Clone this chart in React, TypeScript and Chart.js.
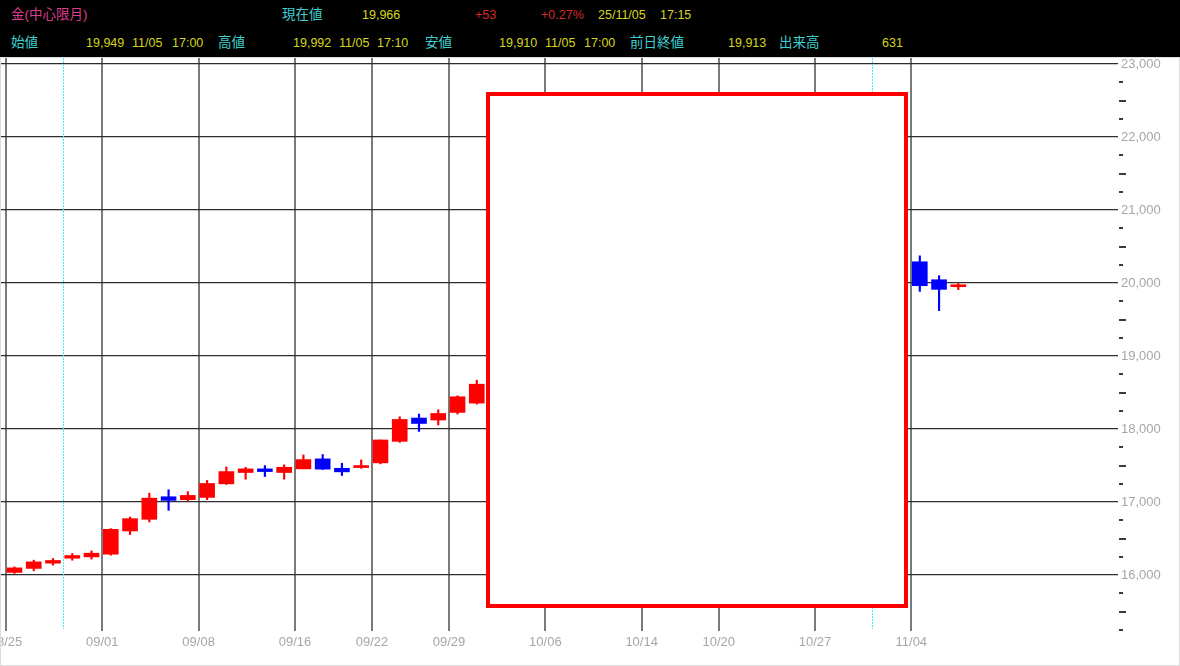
import React, { useEffect, useRef } from 'react';
import { Chart, registerables } from 'chart.js';

Chart.register(...registerables);

// ---- data ----
const dates = [
  '08/25', '08/26', '08/27', '08/28', '08/29',
  '09/01', '09/02', '09/03', '09/04', '09/05',
  '09/08', '09/09', '09/10', '09/11', '09/12',
  '09/16', '09/17', '09/18', '09/19',
  '09/22', '09/24', '09/25', '09/26',
  '09/29', '09/30', '10/01', '10/02', '10/03',
  '10/06', '10/07', '10/08', '10/09', '10/10',
  '10/14', '10/15', '10/16', '10/17',
  '10/20', '10/21', '10/22', '10/23', '10/24',
  '10/27', '10/28', '10/29', '10/30', '10/31',
  '11/04', '11/05', '11/06',
];

// null = hidden under the white box in the reference
const opens: (number | null)[] = [
  16035, 16090, 16162, 16230, 16248,
  16285, 16603, 16763, 17072, 17032,
  17063, 17249, 17404, 17454, 17404,
  17454, 17591, 17462, 17472,
  17536, 17831, 18150, 18123,
  18227, 18355, null, null, null,
  null, null, null, null, null,
  null, null, null, null,
  null, null, null, null, null,
  null, null, null, null, null,
  20291, 20045, 19949,
];
const highs: (number | null)[] = [
  16112, 16203, 16226, 16295, 16330,
  16636, 16794, 17121, 17168, 17141,
  17295, 17481, 17476, 17499, 17509,
  17645, 17650, 17531, 17577,
  17850, 18168, 18205, 18263,
  18455, 18668, null, null, null,
  null, null, null, null, null,
  null, null, null, null,
  null, null, null, null, null,
  null, null, null, null, null,
  20372, 20100, 19992,
];
const lows: (number | null)[] = [
  16022, 16057, 16135, 16203, 16217,
  16271, 16554, 16726, 16886, 17013,
  17032, 17240, 17312, 17349, 17312,
  17454, 17445, 17363, 17462,
  17522, 17817, 17967, 18055,
  18205, 18341, null, null, null,
  null, null, null, null, null,
  null, null, null, null,
  null, null, null, null, null,
  null, null, null, null, null,
  19885, 19622, 19910,
];
const closes: (number | null)[] = [
  16098, 16180, 16199, 16267, 16299,
  16626, 16772, 17053, 17022, 17090,
  17254, 17417, 17454, 17417, 17476,
  17581, 17450, 17413, 17495,
  17850, 18131, 18076, 18213,
  18442, 18614, null, null, null,
  null, null, null, null, null,
  null, null, null, null,
  null, null, null, null, null,
  null, null, null, null, null,
  19963, 19913, 19966,
];

const weekLabels = ['08/25', '09/01', '09/08', '09/16', '09/22', '09/29', '10/06', '10/14', '10/20', '10/27', '11/04'];
const rolloverDays = ['08/28', '10/30'];
const yLabelValues = [16000, 17000, 18000, 19000, 20000, 21000, 22000, 23000];
const yMinorValues = [
  15250, 15500, 15750, 16250, 16500, 16750, 17250, 17500, 17750,
  18250, 18500, 18750, 19250, 19500, 19750, 20250, 20500, 20750,
  21250, 21500, 21750, 22250, 22500, 22750,
];

const headerRow1 = [
  { t: '金(中心限月)', c: 'pink' },
  { t: '現在値', c: 'cyan' },
  { t: '19,966', c: 'yellow' },
  { t: '+53', c: 'red' },
  { t: '+0.27%', c: 'red' },
  { t: '25/11/05', c: 'yellow' },
  { t: '17:15', c: 'yellow' },
];
const headerRow2 = [
  { t: '始値', c: 'cyan' },
  { t: '19,949', c: 'yellow' },
  { t: '11/05', c: 'yellow' },
  { t: '17:00', c: 'yellow' },
  { t: '高値', c: 'cyan' },
  { t: '19,992', c: 'yellow' },
  { t: '11/05', c: 'yellow' },
  { t: '17:10', c: 'yellow' },
  { t: '安値', c: 'cyan' },
  { t: '19,910', c: 'yellow' },
  { t: '11/05', c: 'yellow' },
  { t: '17:00', c: 'yellow' },
  { t: '前日終値', c: 'cyan' },
  { t: '19,913', c: 'yellow' },
  { t: '出来高', c: 'cyan' },
  { t: '631', c: 'yellow' },
];

// ---- layout (not data) ----
const row1X = [11, 282, 362, 475, 541, 598, 660];
const row2X = [11, 86, 132, 172, 218, 293, 339, 377, 425, 499, 545, 584, 630, 728, 779, 882];
const colorMap: Record<string, string> = {
  pink: '#dc3f8e',
  cyan: '#3fd0d0',
  yellow: '#d6d61c',
  red: '#d62a2a',
};

const UP = '#ff0000';
const DOWN = '#0000ff';

const overlayPlugin = {
  id: 'overlay',
  beforeDatasetsDraw(chart: any) {
    const { ctx, chartArea, scales } = chart;
    ctx.save();
    ctx.strokeStyle = '#38eef8';
    ctx.lineWidth = 1;
    ctx.setLineDash([2, 1]);
    rolloverDays.forEach((d) => {
      const i = dates.indexOf(d);
      const x = Math.round(scales.x.getPixelForValue(i - 0.5)) + 0.5;
      ctx.beginPath();
      ctx.moveTo(x, chartArea.top + 1);
      ctx.lineTo(x, chartArea.bottom - 2);
      ctx.stroke();
    });
    ctx.restore();
  },
  afterDraw(chart: any) {
    const { ctx, chartArea, scales } = chart;
    ctx.save();
    ctx.fillStyle = '#3a3a3a';
    yMinorValues.forEach((v) => {
      const y = scales.y.getPixelForValue(v);
      const len = v % 500 === 0 ? 7 : 4;
      ctx.fillRect(chartArea.right + 1, Math.round(y) - 1, len, 2);
    });
    ctx.restore();
  },
};

const hasCJK = (s: string) => /[\u3000-\u9fff]/.test(s);

export default function App() {
  const canvasRef = useRef<HTMLCanvasElement | null>(null);

  useEffect(() => {
    const canvas = canvasRef.current;
    if (!canvas) return;
    const idx = dates.map((_, i) => i).filter((i) => opens[i] != null);
    const isUp = (i: number) => (closes[i] as number) >= (opens[i] as number);

    const bodies = idx.map((i) => ({ x: i, y: [opens[i] as number, closes[i] as number] }));
    const wicks = idx.map((i) => ({ x: i, y: [lows[i] as number, highs[i] as number] }));
    const bodyColors = idx.map((i) => (isUp(i) ? UP : DOWN));

    const weekIdx = weekLabels.map((d) => dates.indexOf(d));

    const chart = new Chart(canvas, {
      type: 'bar',
      data: {
        datasets: [
          {
            data: bodies as any,
            backgroundColor: bodyColors,
            borderWidth: 0,
            barThickness: 15,
            minBarLength: 2,
            grouped: false,
          } as any,
          {
            data: wicks as any,
            backgroundColor: bodyColors,
            borderWidth: 0,
            barThickness: 1.5,
            grouped: false,
          } as any,
        ],
      },
      options: {
        animation: false,
        responsive: false,
        devicePixelRatio: 1,
        layout: { padding: { left: 1, right: 0, top: 0, bottom: 0 } },
        plugins: { legend: { display: false }, tooltip: { enabled: false } },
        scales: {
          x: {
            type: 'linear',
            offset: false,
            min: -0.7,
            max: 57.29,
            border: { display: false },
            grid: { color: '#7a7a7a', lineWidth: 2, drawTicks: false, offset: false },
            afterBuildTicks: (scale: any) => {
              scale.ticks = weekIdx.map((i) => ({ value: i - 0.44 }));
            },
            afterFit: (scale: any) => {
              scale.height = 35;
              scale.paddingLeft = 0;
              scale.paddingRight = 0;
            },
            ticks: {
              autoSkip: false,
              maxRotation: 0,
              padding: 4,
              color: '#a6a6a6',
              font: { size: 13, family: "'Liberation Sans', Arial, sans-serif" },
              callback: (_v: any, index: number) => weekLabels[index],
            },
          },
          y: {
            position: 'right',
            min: 15233,
            max: 23096,
            border: { display: false },
            grid: { color: '#2e2e2e', lineWidth: 1.2, drawTicks: false },
            afterBuildTicks: (scale: any) => {
              scale.ticks = yLabelValues.map((v) => ({ value: v }));
            },
            afterFit: (scale: any) => {
              scale.width = 62;
              scale.paddingTop = 0;
              scale.paddingBottom = 0;
            },
            ticks: {
              padding: 3,
              color: '#a6a6a6',
              font: { size: 13, family: "'Liberation Sans', Arial, sans-serif" },
              callback: (v: any) => Number(v).toLocaleString('en-US'),
            },
          },
        },
      },
      plugins: [overlayPlugin],
    } as any);

    return () => chart.destroy();
  }, []);

  const font = "'Liberation Sans', 'Noto Sans CJK JP', Arial, sans-serif";

  const renderToken = (h: { t: string; c: string }, k: string, x: number, top: number) => (
    <div
      key={k}
      style={{
        position: 'absolute',
        left: x,
        top,
        height: 18,
        lineHeight: '18px',
        fontSize: hasCJK(h.t) ? 13.5 : 12.5,
        color: colorMap[h.c],
        whiteSpace: 'nowrap',
      }}
    >
      {h.t}
    </div>
  );

  return (
    <div style={{ position: 'fixed', left: 0, top: 0, width: 1180, height: 666, background: '#fff', overflow: 'hidden' }}>
      <div style={{ position: 'absolute', left: 0, top: 0, width: 1180, height: 57, background: '#000', fontFamily: font }}>
        {headerRow1.map((h, k) => renderToken(h, 'a' + k, row1X[k], 6))}
        {headerRow2.map((h, k) => renderToken(h, 'b' + k, row2X[k], 34))}
      </div>
      <canvas ref={canvasRef} width={1180} height={609} style={{ position: 'absolute', left: 0, top: 57, width: 1180, height: 609 }} />
      <div style={{ position: 'absolute', left: 0, top: 57, width: 1180, height: 609, border: '1px solid #dcdcdc', boxSizing: 'border-box', pointerEvents: 'none' }} />
      <div style={{ position: 'absolute', left: 486, top: 92, width: 422, height: 516, border: '4px solid #ff0000', background: '#fff', boxSizing: 'border-box' }} />
    </div>
  );
}
